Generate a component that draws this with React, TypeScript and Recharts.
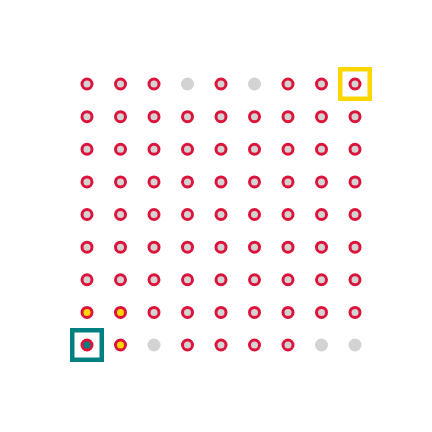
import React from "react";
import { ScatterChart, Scatter, XAxis, YAxis } from "recharts";

const columns = [0, 1, 2, 3, 4, 5, 6, 7, 8];
// rows listed from top (y = 8) to bottom (y = 0)
// R = ring, E = empty gray, G = gold, T = teal
const rowCodes = [
  "RRRERERRR",
  "RRRRRRRRR",
  "RRRRRRRRR",
  "RRRRRRRRR",
  "RRRRRRRRR",
  "RRRRRRRRR",
  "RRRRRRRRR",
  "GGRRRRRRR",
  "TGERRRREE",
];
const highlights = [
  { x: 0, y: 0, color: "#008080" },
  { x: 8, y: 8, color: "#FFD700" },
];

const CRIMSON = "#DC143C";
const fillFor: Record<string, string> = {
  R: "#D3D3D3",
  E: "#D3D3D3",
  G: "#FFD700",
  T: "#008080",
};

const points = rowCodes.flatMap((codes, r) =>
  columns.map((c) => ({ x: c, y: 8 - r, code: codes[c] }))
);

const Dot = (props: any) => {
  const { cx, cy, payload } = props;
  const code = payload.code;
  if (code === "E") {
    return <circle cx={cx} cy={cy} r={6.5} fill={fillFor.E} />;
  }
  return (
    <circle
      cx={cx}
      cy={cy}
      r={5}
      fill={fillFor[code]}
      stroke={CRIMSON}
      strokeWidth={3}
    />
  );
};

const Box = (props: any) => {
  const { cx, cy, payload } = props;
  const s = 29.5;
  return (
    <rect
      x={cx - s / 2}
      y={cy - s / 2}
      width={s}
      height={s}
      fill="none"
      stroke={payload.color}
      strokeWidth={4.5}
    />
  );
};

export default function App() {
  return (
    <ScatterChart
      width={416}
      height={416}
      margin={{ top: 76, right: 69, bottom: 79, left: 79 }}
    >
      <XAxis type="number" dataKey="x" domain={[0, 8]} hide />
      <YAxis type="number" dataKey="y" domain={[0, 8]} hide />
      <Scatter data={highlights} shape={Box} isAnimationActive={false} />
      <Scatter data={points} shape={Dot} isAnimationActive={false} />
    </ScatterChart>
  );
}
